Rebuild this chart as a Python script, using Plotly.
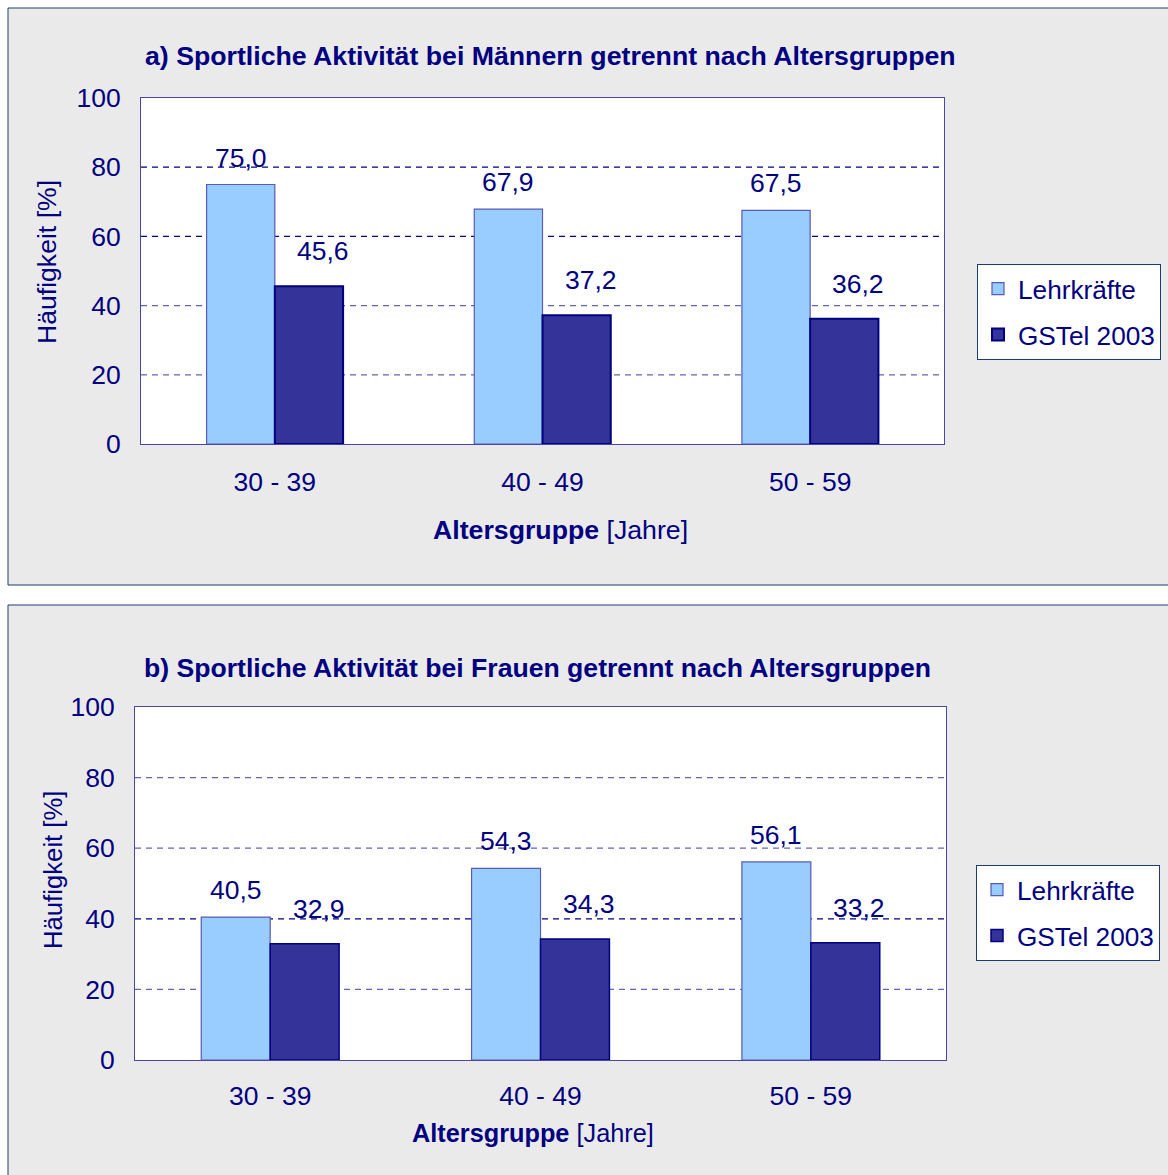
import plotly.graph_objects as go

# ---------------- data ----------------
categories = ["30 - 39", "40 - 49", "50 - 59"]
series_names = ["Lehrkräfte", "GSTel 2003"]
men_lehrkraefte = [75.0, 67.9, 67.5]
men_gstel = [45.6, 37.2, 36.2]
women_lehrkraefte = [40.5, 54.3, 56.1]
women_gstel = [32.9, 34.3, 33.2]
y_ticks = [0, 20, 40, 60, 80, 100]
title_a = "a) Sportliche Aktivität bei Männern getrennt nach Altersgruppen"
title_b = "b) Sportliche Aktivität bei Frauen getrennt nach Altersgruppen"
y_title = "Häufigkeit [%]"
x_title = "<b>Altersgruppe</b> [Jahre]"

# ---------------- style ----------------
W, H = 1168, 1175
FONT = "Arial, 'Liberation Sans', sans-serif"
NAVY = "#000080"
LIGHT = "#99CCFF"
DARK = "#333399"
PANEL_BG = "#EAEAEA"
PANEL_LINE = "#1F3A6E"
GRID_DARK = "#000080"
GRID_LIGHT = "#6464B4"
BARGAP = 0.49
FS = 26.5


def px_x(p):
    return p / W


def px_y(p):
    return 1 - p / H


fig = go.Figure()

panels = [
    dict(xa="x", ya="y", lk=men_lehrkraefte, gs=men_gstel, legend="legend",
         xdom=[px_x(141), px_x(944)], ydom=[px_y(444), px_y(98)],
         dark_grid=[60, 80]),
    dict(xa="x2", ya="y2", lk=women_lehrkraefte, gs=women_gstel, legend="legend2",
         xdom=[px_x(135), px_x(946)], ydom=[px_y(1060), px_y(707)],
         dark_grid=[40]),
]

shapes = []
# panel backgrounds
shapes.append(dict(type="rect", xref="paper", yref="paper", layer="below",
                   x0=px_x(8), x1=1.02, y0=px_y(585), y1=px_y(8),
                   fillcolor=PANEL_BG, line=dict(color=PANEL_LINE, width=1)))
shapes.append(dict(type="rect", xref="paper", yref="paper", layer="below",
                   x0=px_x(8), x1=1.02, y0=-0.02, y1=px_y(605),
                   fillcolor=PANEL_BG, line=dict(color=PANEL_LINE, width=1)))

annotations = []

for pi, p in enumerate(panels):
    xa, ya = p["xa"], p["ya"]
    xaxis_name = "xaxis" if xa == "x" else "xaxis2"
    yaxis_name = "yaxis" if ya == "y" else "yaxis2"
    fig.add_trace(go.Bar(
        x=categories, y=p["lk"], name=series_names[0], xaxis=xa, yaxis=ya,
        marker=dict(color=LIGHT, line=dict(color="#5A5AB8", width=1.2)),
        legend=p["legend"], legendgroup=f"lk{pi}", hoverinfo="skip"))
    fig.add_trace(go.Bar(
        x=categories, y=p["gs"], name=series_names[1], xaxis=xa, yaxis=ya,
        marker=dict(color=DARK, line=dict(color=NAVY, width=2 if pi == 0 else 1.5)),
        legend=p["legend"], legendgroup=f"gs{pi}", hoverinfo="skip"))

    # white plot area
    shapes.append(dict(type="rect", xref=f"{xa} domain", yref=f"{ya} domain",
                       layer="below", x0=0, x1=1, y0=0, y1=1,
                       fillcolor="white", line=dict(width=0)))
    # dashed gridlines
    for t in y_ticks[1:-1]:
        col = GRID_DARK if t in p["dark_grid"] else GRID_LIGHT
        shapes.append(dict(type="line", xref=f"{xa} domain", yref=ya, layer="below",
                           x0=0, x1=1, y0=t, y1=t,
                           line=dict(color=col, width=1.2, dash="6px,5px")))

    fig.update_layout(**{
        xaxis_name: dict(domain=p["xdom"], anchor=ya, type="category",
                         range=[-0.5, 2.5], showgrid=False, showline=True,
                         mirror=True, linecolor="#4848A8", linewidth=1,
                         ticks="", ticklabelstandoff=14 if pi == 0 else 12,
                         tickfont=dict(family=FONT, size=FS, color=NAVY),
                         automargin=False, fixedrange=True),
        yaxis_name: dict(domain=p["ydom"], anchor=xa, range=[0, 100],
                         tickvals=y_ticks, showgrid=False, zeroline=False,
                         showline=True, mirror=True, linecolor="#4848A8",
                         linewidth=1, ticks="", ticklabelstandoff=14,
                         tickfont=dict(family=FONT, size=FS, color=NAVY),
                         automargin=False, fixedrange=True),
    })

    # data labels
    off = (1 - BARGAP) / 4
    for i, cat in enumerate(categories):
        annotations.append(dict(x=i - off, y=p["lk"][i], xref=xa, yref=ya,
                                text=f"{p['lk'][i]:.1f}".replace(".", ","),
                                showarrow=False, yshift=27, yanchor="middle",
                                xanchor="center",
                                font=dict(family=FONT, size=FS, color=NAVY)))
        annotations.append(dict(x=i + off, y=p["gs"][i], xref=xa, yref=ya,
                                text=f"{p['gs'][i]:.1f}".replace(".", ","),
                                showarrow=False, yshift=35, xshift=14,
                                yanchor="middle", xanchor="center",
                                font=dict(family=FONT, size=FS, color=NAVY)))

# titles and axis titles
common = dict(xref="paper", yref="paper", showarrow=False,
              xanchor="center", yanchor="middle")
annotations += [
    dict(x=px_x(550), y=px_y(56), text=f"<b>{title_a}</b>",
         font=dict(family=FONT, size=26.7, color=NAVY), **common),
    dict(x=px_x(537), y=px_y(668), text=f"<b>{title_b}</b>",
         font=dict(family=FONT, size=26.6, color=NAVY), **common),
    dict(x=px_x(560), y=px_y(530), text=x_title,
         font=dict(family=FONT, size=26.7, color=NAVY), **common),
    dict(x=px_x(533), y=px_y(1133), text=x_title,
         font=dict(family=FONT, size=25.3, color=NAVY), **common),
    dict(x=px_x(47), y=px_y(262), text=y_title, textangle=-90,
         font=dict(family=FONT, size=26.6, color=NAVY), **common),
    dict(x=px_x(53), y=px_y(870), text=y_title, textangle=-90,
         font=dict(family=FONT, size=25.7, color=NAVY), **common),
]

legend_style = dict(bgcolor="white", bordercolor=PANEL_LINE, borderwidth=1,
                    font=dict(family=FONT, size=26.2, color=NAVY),
                    tracegroupgap=9, xanchor="left", yanchor="top",
                    itemclick=False, itemdoubleclick=False)

fig.update_layout(
    width=W, height=H,
    margin=dict(l=0, r=0, t=0, b=0, pad=0, autoexpand=False),
    paper_bgcolor="white",
    plot_bgcolor="white",
    barmode="group",
    bargap=BARGAP,
    bargroupgap=0,
    showlegend=True,
    legend=dict(x=px_x(977), y=px_y(264), **legend_style),
    legend2=dict(x=px_x(976), y=px_y(865), **legend_style),
    shapes=shapes,
    annotations=annotations,
    font=dict(family=FONT, color=NAVY),
)

fig.write_html("out.html")
